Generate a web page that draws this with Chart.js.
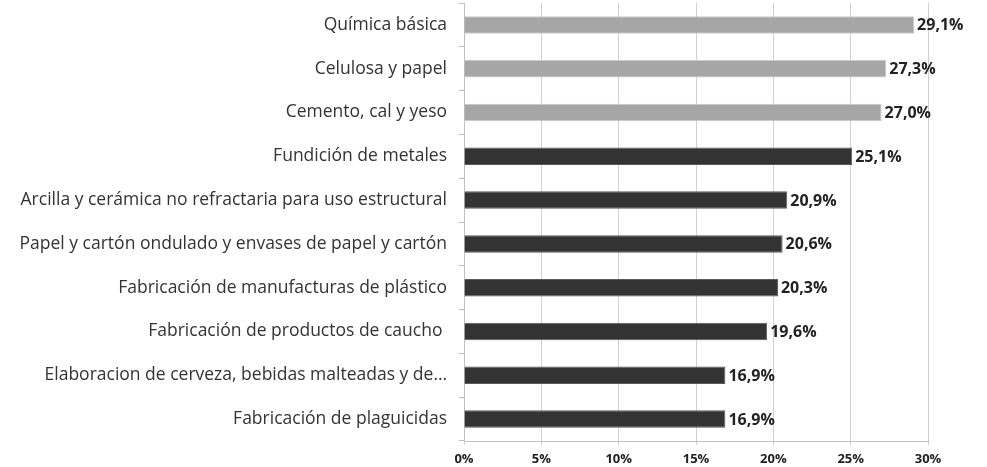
<!DOCTYPE html>
<html>
<head>
<meta charset="utf-8">
<script src="https://cdn.jsdelivr.net/npm/chart.js@4"></script>
<style>
  html, body { margin: 0; padding: 0; background: #fff; }
  #wrap { width: 987px; height: 467px; position: relative; }
</style>
</head>
<body>
<div id="wrap"><canvas id="c"></canvas></div>
<script>
// datos
const categorias = [
  'Química básica',
  'Celulosa y papel',
  'Cemento, cal y yeso',
  'Fundición de metales',
  'Arcilla y cerámica no refractaria para uso estructural',
  'Papel y cartón ondulado y envases de papel y cartón',
  'Fabricación de manufacturas de plástico',
  'Fabricación de productos de caucho ',
  'Elaboracion de cerveza, bebidas malteadas y de…',
  'Fabricación de plaguicidas'
];
const valores = [29.1, 27.3, 27.0, 25.1, 20.9, 20.6, 20.3, 19.6, 16.9, 16.9];
const destacados = [true, true, true, false, false, false, false, false, false, false];
const ticksX = [0, 5, 10, 15, 20, 25, 30];

const GRIS = '#a6a6a6';
const OSCURO = '#333333';
const FONT = '"Open Sans", "DejaVu Sans", sans-serif';

const fmt = v => v.toFixed(1).replace('.', ',') + '%';

// etiquetas de valor al final de cada barra
const etiquetas = {
  id: 'etiquetas',
  afterDatasetsDraw(chart) {
    const ctx = chart.ctx;
    const meta = chart.getDatasetMeta(0);
    ctx.save();
    ctx.font = 'bold 16px ' + FONT;
    ctx.fillStyle = '#222';
    ctx.textBaseline = 'middle';
    ctx.textAlign = 'left';
    meta.data.forEach((bar, i) => {
      ctx.fillText(fmt(valores[i]), bar.x + 3, bar.y + 1);
    });
    ctx.restore();
  }
};

new Chart(document.getElementById('c'), {
  type: 'bar',
  data: {
    labels: categorias,
    datasets: [{
      data: valores,
      backgroundColor: destacados.map(d => d ? GRIS : OSCURO),
      borderColor: destacados.map(d => d ? '#c8c8c8' : '#5a5a5a'),
      borderWidth: 1,
      barPercentage: 0.4,
      categoryPercentage: 1
    }]
  },
  options: {
    indexAxis: 'y',
    responsive: true,
    maintainAspectRatio: false,
    animation: false,
    layout: { padding: { top: 3, right: 59, left: 0, bottom: 0 } },
    plugins: { legend: { display: false }, tooltip: { enabled: false } },
    scales: {
      x: {
        min: 0, max: 30,
        afterBuildTicks: s => { s.ticks = ticksX.map(v => ({ value: v })); },
        afterFit: s => { s.height = 26; s.paddingLeft = 0; s.paddingRight = 0; },
        grid: { color: '#d0d0d0', lineWidth: 1, tickLength: 4 },
        border: { color: '#c0c0c0' },
        ticks: {
          color: '#222',
          font: { family: FONT, size: 13, weight: 'bold' },
          padding: 6,
          maxRotation: 0,
          callback: v => v + '%'
        }
      },
      y: {
        afterFit: s => { s.width = 464; s.paddingTop = 0; s.paddingBottom = 0; },
        grid: { offset: true, drawOnChartArea: false, color: '#c0c0c0', tickLength: 5 },
        border: { color: '#c0c0c0' },
        ticks: {
          color: '#333',
          font: { family: FONT, size: 17.5 },
          padding: 12,
          autoSkip: false
        }
      }
    }
  },
  plugins: [etiquetas]
});
</script>
</body>
</html>
